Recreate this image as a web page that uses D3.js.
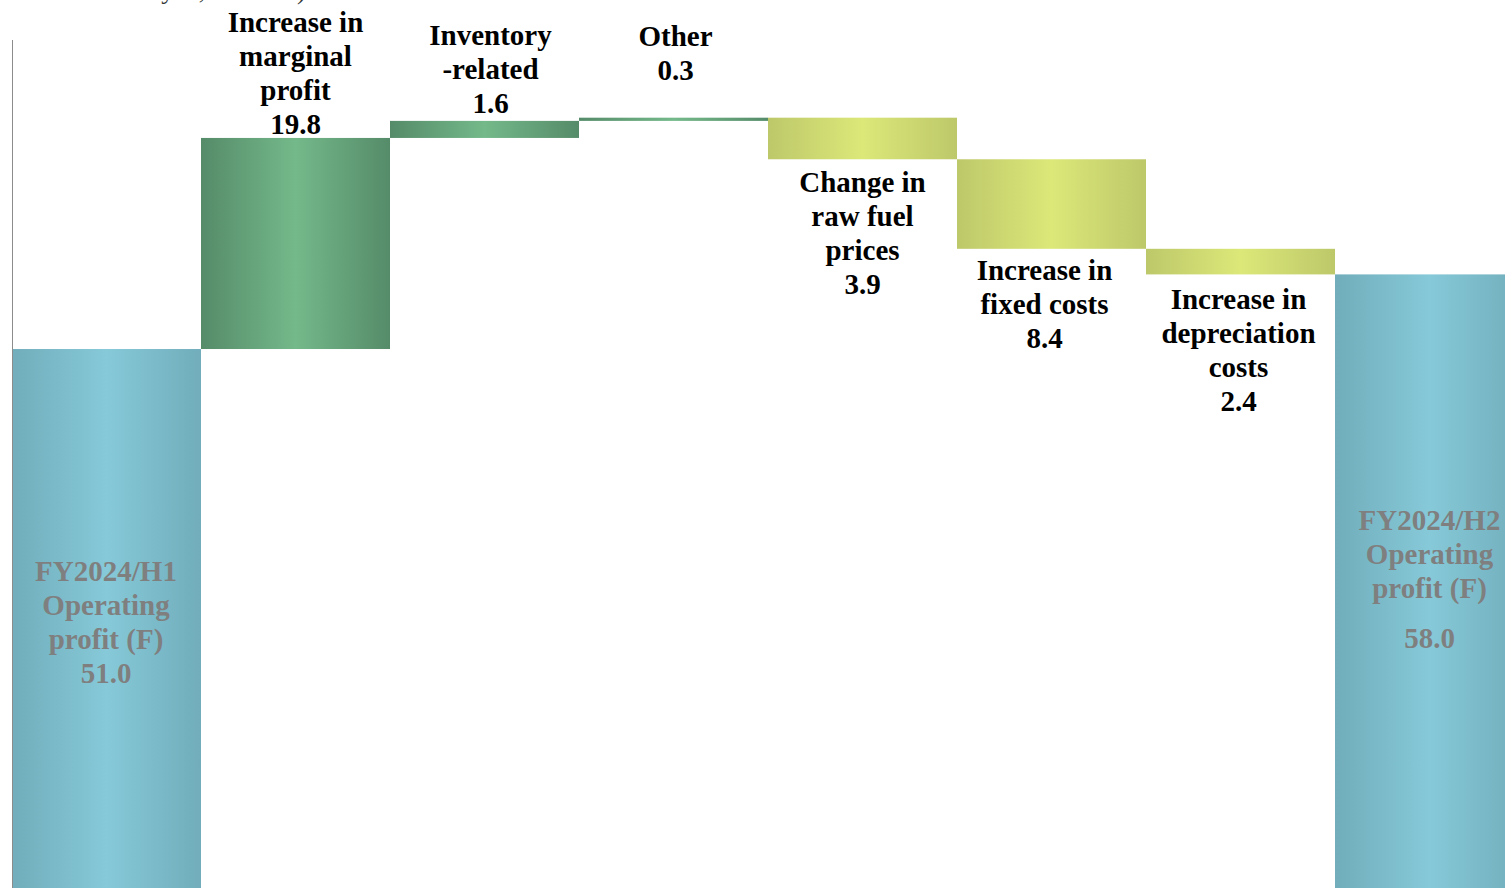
<!DOCTYPE html>
<html>
<head>
<meta charset="utf-8">
<script src="https://cdn.jsdelivr.net/npm/d3@7"></script>
<style>
  html, body { margin: 0; padding: 0; background: #fff; overflow: hidden; }
  svg { display: block; }
  text { font-family: "Liberation Serif", "Times New Roman", serif; font-weight: bold; }
</style>
</head>
<body>
<svg id="chart" width="1505" height="888"></svg>
<script>
// Operating profit bridge, FY2024/H1 -> FY2024/H2 (billions of yen)
const categories = ["start", "marginal", "inventory", "other", "fuel", "fixed", "depreciation", "end"];
const kinds      = ["total", "up", "up", "up", "down", "down", "down", "total"];
const values     = [51.0, 19.8, 1.6, 0.3, 3.9, 8.4, 2.4, 58.0];
const labelLines = [
  ["FY2024/H1", "Operating", "profit (F)"],
  ["Increase in", "marginal", "profit"],
  ["Inventory", "-related"],
  ["Other"],
  ["Change in", "raw fuel", "prices"],
  ["Increase in", "fixed costs"],
  ["Increase in", "depreciation", "costs"],
  ["FY2024/H2", "Operating", "profit (F)"]
];
const unitNote = "(Unit: billions of yen, rounded)";

// running totals -> floating segments
let running = 0;
const segs = categories.map((c, i) => {
  let lo, hi;
  if (kinds[i] === "total") { lo = 0; hi = values[i]; running = values[i]; }
  else if (kinds[i] === "up") { lo = running; hi = running + values[i]; running = hi; }
  else { hi = running; lo = running - values[i]; running = lo; }
  return { key: c, kind: kinds[i], value: values[i], lo, hi, lines: labelLines[i] };
});

const svg = d3.select("#chart");
const W = 1505, H = 888;

const x = d3.scaleBand().domain(categories).range([12, 12 + 8 * 189]).padding(0);
const y = d3.scaleLinear().domain([0, 83.74]).range([892.7, 0]);

// horizontal gradients per bar type
const defs = svg.append("defs");
const grads = {
  total: ["#71adbb", "#86c9d8"],
  up:    ["#558b69", "#74b98a"],
  down:  ["#bdc86a", "#dce878"]
};
Object.entries(grads).forEach(([k, [edge, mid]]) => {
  const g = defs.append("linearGradient").attr("id", "g-" + k)
    .attr("x1", "0%").attr("x2", "100%").attr("y1", "0%").attr("y2", "0%");
  g.append("stop").attr("offset", "0%").attr("stop-color", edge);
  g.append("stop").attr("offset", "50%").attr("stop-color", mid);
  g.append("stop").attr("offset", "100%").attr("stop-color", edge);
});

// bars
svg.append("g").selectAll("rect").data(segs).join("rect")
  .attr("x", d => x(d.key))
  .attr("width", x.bandwidth())
  .attr("y", d => y(d.hi))
  .attr("height", d => Math.max(1, y(d.lo) - y(d.hi)))
  .attr("fill", d => `url(#g-${d.kind})`);

// vertical axis line
svg.append("line")
  .attr("x1", 12.5).attr("x2", 12.5)
  .attr("y1", 40).attr("y2", H)
  .attr("stroke", "#8c8c8c").attr("stroke-width", 1);

// unit note (runs off the top edge of the frame)
svg.append("text")
  .attr("x", -20).attr("y", -1)
  .attr("font-size", 26)
  .attr("fill", "#333")
  .style("font-weight", "normal")
  .text(unitNote);

const FS = 29, LH = 34;
const fmt = d3.format(".1f");
// hand placement tweaks for the labels
const liftAbove = { marginal: 4, inventory: 8, other: 38 };
const dropBelow = { fuel: 33, fixed: 31, depreciation: 35 };
const innerShift = { start: 1.5, end: -5 };
const nudgeX = { inventory: 6, other: 2, fixed: -7, depreciation: -2, start: -0.5 };

const labels = svg.append("g").attr("text-anchor", "middle").attr("font-size", FS);

segs.forEach(d => {
  const cx = x(d.key) + x.bandwidth() / 2 + (nudgeX[d.key] || 0);
  const lines = d.lines.concat([fmt(d.value)]);
  let baselines = [];
  let color = "#000";
  if (d.kind === "up") {
    const last = y(d.hi) - liftAbove[d.key];
    baselines = lines.map((_, i) => last - (lines.length - 1 - i) * LH);
  } else if (d.kind === "down") {
    const first = y(d.lo) + dropBelow[d.key];
    baselines = lines.map((_, i) => first + i * LH);
  } else {
    color = "#7f7f7f";
    const gapBeforeValue = d.key === "end" ? 16 : 0;
    const blockH = (lines.length - 1) * LH + gapBeforeValue;
    const mid = (y(d.lo) + y(d.hi)) / 2;
    const first = mid - blockH / 2 + 10 + innerShift[d.key];
    baselines = lines.map((_, i) => first + i * LH + (i === lines.length - 1 ? gapBeforeValue : 0));
  }
  lines.forEach((t, i) => {
    labels.append("text")
      .attr("x", cx).attr("y", baselines[i])
      .attr("fill", color)
      .text(t);
  });
});
</script>
</body>
</html>
